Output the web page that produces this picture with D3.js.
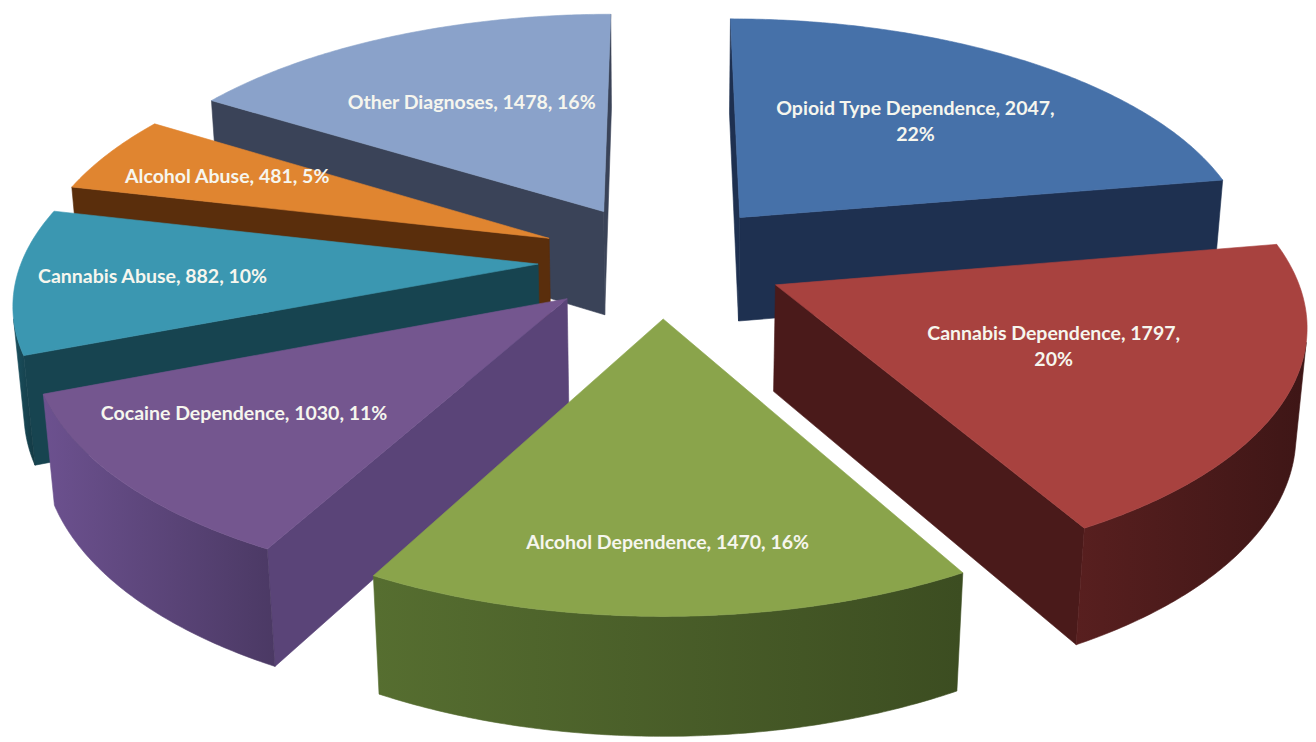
<!DOCTYPE html>
<html>
<head>
<meta charset="utf-8">
<script src="https://cdn.jsdelivr.net/npm/d3@7"></script>
<style>
  body { margin: 0; background: #fff; }
  svg { display: block; }
  .lbl { font-family: Lato, "Open Sans", sans-serif; font-weight: 700; font-size: 19.5px; fill: #f6f6ee; }
</style>
</head>
<body>
<svg width="1316" height="742"></svg>
<script>
// data
const categories = ["Opioid Type Dependence", "Cannabis Dependence", "Alcohol Dependence",
  "Cocaine Dependence", "Cannabis Abuse", "Alcohol Abuse", "Other Diagnoses"];
const values = [2047, 1797, 1470, 1030, 882, 481, 1478];

// styles
const topColors = ["#4671a9", "#a8423f", "#8aa44b", "#74568f", "#3b97b1", "#e08530", "#8aa2ca"];
const sideColors = ["#1e3050", "#4a1a1a", "#485c28", "#5a4478", "#174450", "#5a2e0c", "#3a4358"];
const labelRadius = [0.59, 0.56, 0.78, 0.71, 0.74, 0.72, 0.60];
const labelTurn = [0, 0, 0, 4, 0, 0, 0];   // degrees
const labelWrap = [true, true, false, false, false, false, false];

// 3d view
const tilt = 27.4 * Math.PI / 180, camDist = 6.34, focal = 3272;
const cx0 = 662, cy0 = 260;
const radius = 1, explode = 0.24, thick = 0.234;
const cosT = Math.cos(tilt), sinT = Math.sin(tilt);
const cam = [0, camDist * sinT, camDist * cosT];

function project(p) {
  const depth = camDist - p[1] * sinT - p[2] * cosT;
  return [cx0 + focal * p[0] / depth, cy0 - focal * (p[1] * cosT - p[2] * sinT) / depth];
}
function facing(n, p) {
  return n[0] * (cam[0] - p[0]) + n[1] * (cam[1] - p[1]) + n[2] * (cam[2] - p[2]) > 0;
}

const svg = d3.select("svg");
const defs = svg.append("defs");
const line = d3.line();
const total = d3.sum(values);
const arcs = d3.pie().sort(null).value(d => d)(values);

let slices = arcs.map((d, i) => {
  const mid = (d.startAngle + d.endAngle) / 2;
  const ox = explode * Math.sin(mid), oz = -explode * Math.cos(mid);
  const rim = (a, y) => [ox + radius * Math.sin(a), y, oz - radius * Math.cos(a)];
  return { i, d, mid, ox, oz, rim, zc: oz - 0.5 * Math.cos(mid) };
});
slices.sort((a, b) => a.zc - b.zc);

const g = svg.append("g");

slices.forEach(s => {
  const { i, d, ox, oz, rim } = s;
  const n = Math.max(2, Math.ceil((d.endAngle - d.startAngle) / 0.01));
  const angles = d3.range(n + 1).map(j => d.startAngle + (d.endAngle - d.startAngle) * j / n);

  // cut faces
  [[d.startAngle, d.startAngle - Math.PI / 2], [d.endAngle, d.endAngle + Math.PI / 2]].forEach(([a, b]) => {
    const nrm = [Math.sin(b), 0, -Math.cos(b)];
    if (!facing(nrm, [ox, 0, oz])) return;
    const pts = [[ox, 0, oz], rim(a, 0), rim(a, -thick), [ox, -thick, oz]].map(project);
    g.append("path").attr("d", line(pts) + "Z")
      .attr("fill", sideColors[i]).attr("stroke", sideColors[i]).attr("stroke-width", 0.6);
  });

  // outer wall, only the part that faces the camera
  const vis = angles.map(a => facing([Math.sin(a), 0, -Math.cos(a)], rim(a, 0)));
  let runs = [], cur = null;
  angles.forEach((a, j) => {
    if (vis[j]) { if (!cur) { cur = []; runs.push(cur); } cur.push(a); }
    else cur = null;
  });
  runs.forEach((run, k) => {
    if (run.length < 2) return;
    const topPts = run.map(a => project(rim(a, 0)));
    const botPts = run.map(a => project(rim(a, -thick))).reverse();
    const pts = topPts.concat(botPts);
    const xs = d3.extent(pts, p => p[0]);
    const gid = "wall" + i + "_" + k;
    const grad = defs.append("linearGradient").attr("id", gid)
      .attr("gradientUnits", "userSpaceOnUse")
      .attr("x1", xs[0]).attr("x2", xs[1]).attr("y1", 0).attr("y2", 0);
    grad.append("stop").attr("offset", 0).attr("stop-color", d3.rgb(sideColors[i]).brighter(0.5));
    grad.append("stop").attr("offset", 1).attr("stop-color", d3.rgb(sideColors[i]).darker(0.5));
    g.append("path").attr("d", line(pts) + "Z")
      .attr("fill", "url(#" + gid + ")").attr("stroke", "url(#" + gid + ")").attr("stroke-width", 0.6);
  });

  // top face
  const topFace = [project([ox, 0, oz])].concat(angles.map(a => project(rim(a, 0))));
  g.append("path").attr("d", line(topFace) + "Z")
    .attr("fill", topColors[i]).attr("stroke", topColors[i]).attr("stroke-width", 0.6);
});

// labels
const lbl = svg.append("g");
slices.forEach(s => {
  const { i, mid, ox, oz } = s;
  const r = labelRadius[i];
  const a = mid + labelTurn[i] * Math.PI / 180;
  const p = project([ox + r * Math.sin(a), 0, oz - r * Math.cos(a)]);
  const pct = Math.round(values[i] / total * 100) + "%";
  const head = categories[i] + ", " + values[i] + ",";
  const lines = labelWrap[i] ? [head, pct] : [head + " " + pct];
  const lh = 26;
  const t = lbl.append("text").attr("class", "lbl").attr("text-anchor", "middle");
  lines.forEach((ln, k) => {
    t.append("tspan").attr("x", p[0]).attr("y", p[1] + (k - (lines.length - 1) / 2) * lh)
      .attr("dy", "0.35em").text(ln);
  });
});
</script>
</body>
</html>
